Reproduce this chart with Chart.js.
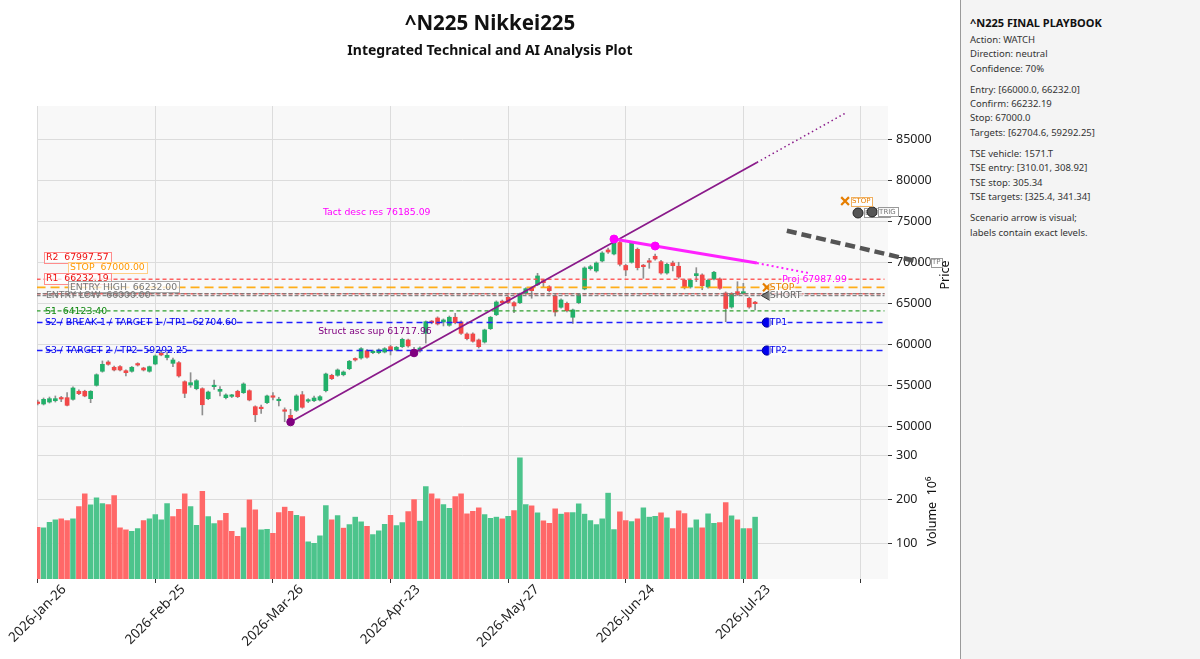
<!DOCTYPE html>
<html>
<head>
<meta charset="utf-8">
<script src="https://cdn.jsdelivr.net/npm/chart.js@4.4.1/dist/chart.umd.min.js"></script>
<style>
  html, body { margin: 0; padding: 0; background: #fff; }
  body { width: 1200px; height: 659px; position: relative; overflow: hidden; font-family: 'Noto Sans', sans-serif; color: #111; }
  #wrap { position: absolute; left: 0; top: 0; width: 960px; height: 659px; }
  #title { position: absolute; left: 0; width: 980px; top: 8px; line-height: 28px; text-align: center; font-weight: bold; font-size: 20.5px; }
  #subtitle { position: absolute; left: 0; width: 980px; top: 40px; line-height: 20px; text-align: center; font-weight: bold; font-size: 14px; }
  #panel { position: absolute; left: 960px; top: 0; width: 240px; height: 659px; background: #f4f4f4; border-left: 1px solid #9a9a9a; box-sizing: border-box; padding: 15px 0 0 9px; font-size: 9.5px; color: #333; }
  #panel .h { font-weight: bold; font-size: 11px; line-height: 16px; color: #111; margin-bottom: 2px; }
  #panel .l { line-height: 14.3px; }
  #panel .g { margin-top: 7px; }
</style>
</head>
<body>
<div id="wrap"><canvas id="chart" width="960" height="659"></canvas></div>
<div id="title">^N225 Nikkei225</div>
<div id="subtitle">Integrated Technical and AI Analysis Plot</div>
<div id="panel">
  <div class="h">^N225 FINAL PLAYBOOK</div>
  <div class="l">Action: WATCH</div>
  <div class="l">Direction: neutral</div>
  <div class="l">Confidence: 70%</div>
  <div class="l g">Entry: [66000.0, 66232.0]</div>
  <div class="l">Confirm: 66232.19</div>
  <div class="l">Stop: 67000.0</div>
  <div class="l">Targets: [62704.6, 59292.25]</div>
  <div class="l g">TSE vehicle: 1571.T</div>
  <div class="l">TSE entry: [310.01, 308.92]</div>
  <div class="l">TSE stop: 305.34</div>
  <div class="l">TSE targets: [325.4, 341.34]</div>
  <div class="l g">Scenario arrow is visual;</div>
  <div class="l">labels contain exact levels.</div>
</div>
<script>
// Daily candles, index 0 = 2026-Jan-26
const opens = [53010, 52770, 53010, 53170, 53450, 53540, 53340, 54320, 54320, 53420,
  55050, 56760, 57890, 57250, 57330, 56830, 56760, 57650, 57160, 56760,
  57650, 58950, 58440, 57730, 57810, 55490, 55090, 54640, 54640, 53420,
  54880, 54320, 53540, 53700, 54320, 54150, 54390, 52440, 52370, 52930,
  53750, 53170, 52040, 51390, 52000, 53900, 53110, 53170, 53260, 54390,
  56270, 56270, 56340, 57080, 58300, 58380, 59270, 59030, 59030, 59110,
  59760, 59360, 59760, 60580, 59440, 59270, 61390, 62810, 63260, 62770,
  62370, 63350, 62770, 61310, 61310, 60580, 60330, 61960, 63660, 65300,
  65790, 65130, 65130, 66270, 66920, 67320, 67810, 67080, 65950, 64570,
  65050, 63350, 65130, 66800, 69280, 69000, 70220, 71560, 71070, 72470,
  69670, 70060, 71640, 69640, 70220, 70790, 70130, 68750, 69970, 69570,
  67860, 67040, 68420, 68510, 67040, 68020, 68020, 66310, 64600, 66470,
  66230, 65660, 65180];
const highs = [53260, 53500, 53620, 53750, 53700, 54150, 54850, 54500, 54450, 54400,
  56450, 58020, 58050, 57400, 57450, 56950, 57350, 57800, 57250, 57400,
  58750, 59300, 59030, 58380, 57950, 55600, 56590, 55750, 54750, 54350,
  55700, 54880, 54000, 53950, 54450, 55350, 54500, 52550, 52650, 53850,
  54150, 53590, 52300, 52120, 53900, 54300, 53420, 53750, 53800, 56550,
  56400, 57050, 56800, 58100, 58400, 59650, 59400, 59350, 59500, 59650,
  59950, 59800, 60800, 60700, 59690, 59750, 62900, 62950, 63400, 63150,
  63500, 63830, 62900, 61450, 61450, 60700, 61900, 63450, 65350, 65450,
  65900, 65250, 66300, 66950, 67050, 68710, 67950, 67200, 66100, 65600,
  65200, 64350, 66250, 69500, 69700, 70100, 71350, 71800, 72890, 72600,
  69800, 72550, 71800, 69800, 70540, 71070, 70300, 69950, 70200, 70060,
  68000, 68000, 69400, 68650, 68000, 68950, 68150, 66450, 66350, 67690,
  67490, 65800, 65300];
const lows = [52650, 52650, 52890, 53010, 53050, 52550, 53250, 53900, 53650, 52930,
  54950, 56650, 57500, 56800, 56800, 56190, 56650, 57400, 56800, 56650,
  57550, 58650, 58140, 57320, 56050, 53540, 54810, 54500, 51430, 53300,
  54560, 53750, 53400, 53550, 53550, 54050, 53150, 50610, 51630, 52800,
  53260, 52530, 50610, 50570, 51850, 52250, 52930, 53050, 53150, 54250,
  55750, 56150, 56200, 56950, 58000, 58250, 58350, 58900, 58900, 59000,
  58750, 59250, 59650, 59700, 58870, 59100, 60200, 62550, 62400, 62290,
  62250, 62550, 61250, 60600, 60300, 59600, 60200, 61850, 63550, 65000,
  65000, 63910, 65000, 66150, 65670, 67200, 67080, 66450, 63500, 64450,
  64000, 62600, 65000, 66700, 69100, 68850, 70100, 71150, 70950, 69600,
  68420, 69950, 69120, 68100, 69320, 70300, 68600, 68600, 69000, 68100,
  66800, 66900, 67690, 66710, 66900, 67900, 66750, 62810, 64450, 66000,
  66150, 64450, 64240];
const closes = [52830, 53340, 53420, 53420, 53380, 52610, 54720, 54030, 53750, 54320,
  56340, 57610, 57610, 56920, 56920, 56590, 57250, 57520, 56920, 57320,
  58630, 58750, 58710, 58140, 56190, 54070, 55370, 55610, 52680, 54230,
  55050, 54560, 53870, 53800, 53660, 55210, 53260, 51460, 52200, 53750,
  53590, 53340, 51880, 50980, 53750, 52370, 53260, 53500, 53660, 56430,
  55860, 56920, 56670, 57980, 58140, 59520, 58470, 59200, 59360, 59520,
  59270, 59690, 60660, 59850, 59150, 59600, 62810, 62700, 62530, 63020,
  63350, 62690, 61390, 60740, 60420, 59760, 61800, 63350, 65210, 65130,
  65150, 64730, 66190, 66840, 66590, 68390, 67570, 66590, 63990, 65460,
  64150, 64240, 66100, 69360, 69520, 69970, 71190, 71310, 72840, 69810,
  69120, 72410, 69400, 69520, 70060, 70460, 68750, 69810, 69640, 68260,
  66960, 67860, 68670, 67200, 67860, 68840, 66880, 64420, 66230, 66150,
  66470, 64600, 65010];
// volume in millions, and whether its bar is drawn green
const volumes = [138.7, 137.2, 150.1, 155.4, 157.7, 153.9, 157.7, 185.7, 214.5, 189.5,
  205.4, 192.5, 190.2, 210.7, 137.2, 132.7, 129.6, 135.7, 153.9, 157.7,
  167.5, 155.4, 192.5, 163.0, 179.6, 214.5, 185.7, 143.3, 220.5, 163.0,
  147.1, 153.9, 170.5, 129.6, 118.3, 137.2, 200.8, 178.1, 132.7, 134.2,
  125.1, 172.1, 184.2, 175.1, 166.0, 163.0, 105.4, 102.4, 119.0, 188.0,
  155.4, 165.2, 136.5, 144.8, 161.5, 150.8, 141.0, 122.1, 130.4, 145.5,
  166.0, 142.5, 149.3, 174.3, 201.6, 152.4, 231.2, 214.5, 203.1, 190.2,
  181.9, 208.4, 214.5, 169.0, 175.1, 182.7, 167.5, 159.2, 161.5, 157.7,
  163.7, 176.6, 296.3, 190.2, 187.2, 171.3, 153.1, 147.8, 180.4, 168.3,
  172.1, 172.1, 191.8, 168.3, 153.9, 144.8, 157.7, 216.0, 133.4, 173.6,
  153.9, 151.6, 157.7, 182.7, 161.5, 163.7, 171.3, 160.0, 135.7, 175.8,
  169.8, 137.2, 155.4, 137.2, 169.0, 147.8, 149.3, 194.8, 164.5, 155.4,
  135.7, 135.7, 161.5];
const volUp = [0, 1, 1, 1, 0, 0, 1, 0, 0, 1, 1, 1, 0, 0, 0, 0, 1, 1, 0, 1,
  1, 1, 1, 0, 0, 0, 1, 1, 0, 1, 1, 0, 0, 0, 0, 1, 0, 0, 1, 1,
  0, 0, 0, 0, 1, 0, 1, 1, 1, 1, 0, 1, 0, 1, 1, 1, 0, 1, 1, 1,
  0, 1, 1, 0, 0, 1, 1, 0, 0, 1, 1, 0, 0, 0, 0, 0, 1, 1, 1, 0,
  1, 0, 1, 1, 0, 1, 0, 0, 0, 1, 0, 1, 1, 1, 1, 1, 1, 1, 1, 0,
  0, 1, 0, 1, 1, 1, 0, 1, 0, 0, 0, 1, 1, 0, 1, 1, 0, 0, 1, 0,
  1, 0, 1];

// axis ticks: one date label every 20 sessions
const xTicks = [0, 20, 40, 60, 80, 100, 120, 140];
const tickLabels = ['2026-Jan-26', '2026-Feb-25', '2026-Mar-26', '2026-Apr-23', '2026-May-27', '2026-Jun-24', '2026-Jul-23', ''];
const priceTicks = [50000, 55000, 60000, 65000, 70000, 75000, 80000, 85000];
const volTicks = [100, 200, 300];

// horizontal levels
const levelNames = ['R2', 'STOP', 'R1', 'ENTRY HIGH', 'ENTRY LOW', 'S1', 'S2 / BREAK 1 / TARGET 1 / TP1', 'S3 / TARGET 2 / TP2'];
const levelValues = [67997.57, 67000.00, 66232.19, 66232.00, 66000.00, 64123.40, 62704.60, 59292.25];

// trend lines [session index, price]
const ascSolid = [[43, 50570], [64, 58990], [122.3, 82230]];
const ascDotted = [[122.3, 82230], [137.3, 88230]];
const ascPivots = [[43, 50570], [64, 58990]];
const descSolid = [[98, 72890], [105, 72040], [122.3, 69960]];
const descDotted = [[122.3, 69960], [131.3, 68710]];
const descPivots = [[98, 72890], [105, 72040]];

// scenario arrow and markers
const scenarioArrow = [[127.4, 73900], [150.0, 70090]];
const planMarkers = [
  {name: 'STOP', x: 124, y: 67000.00},
  {name: 'SHORT', x: 124, y: 66000.00},
  {name: 'TP1', x: 124, y: 62704.60},
  {name: 'TP2', x: 124, y: 59292.25}
];
const scenarioMarkers = [
  {name: 'STOP', x: 137.3, y: 77530},
  {name: 'ENTRY', x: 139.5, y: 76070},
  {name: 'TRIG', x: 141.9, y: 76200},
  {name: 'TP', x: 150.9, y: 70090}
];
const notes = [
  {text: 'Tact desc res 76185.09', x: 48.5, y: 76185.09, color: '#ff00ff'},
  {text: 'Struct asc sup 61717.96', x: 47.7, y: 61717.96, color: '#800080'},
  {text: 'Proj 67987.99', x: 126.6, y: 67987.99, color: '#ff00ff', bg: true}
];

// styles for each level line and its label
const levelStyles = [
  {color: '#ee1111', line: 'rgba(255,70,70,0.85)', dash: [4, 3], width: 1.5, dx: 9, dy: -22, box: '#ff8c8c'},
  {color: '#ff9900', line: 'rgba(255,165,0,0.9)', dash: [9, 5], width: 1.6, dx: 33, dy: -20, box: '#ffcf85'},
  {color: '#ee1111', line: 'rgba(255,70,70,0.85)', dash: [4, 3], width: 1.5, dx: 9, dy: -15.5, box: '#ff8c8c'},
  {color: '#777777', line: 'rgba(120,120,120,0.9)', dash: [4, 2], width: 1.3, dx: 33, dy: -7, box: '#aaaaaa'},
  {color: '#777777', line: 'rgba(120,120,120,0.9)', dash: [4, 2], width: 1.3, dx: 9, dy: 0, box: null},
  {color: '#118811', line: '#2ea02e', dash: [4, 3], width: 1.2, dx: 8, dy: 0, box: null},
  {color: '#0000ee', line: '#1f1fff', dash: [6, 4], width: 1.5, dx: 8, dy: 0, box: null},
  {color: '#0000ee', line: '#1f1fff', dash: [6, 4], width: 1.5, dx: 8, dy: 0, box: null}
];

const UP = '#22b06a', DOWN = '#f24848';
const VOL_UP = '#4cc48c', VOL_DOWN = '#ff6868';
const pts = arr => arr.map(p => ({x: p[0], y: p[1]}));

const datasets = [];

// volume
datasets.push({
  type: 'bar', yAxisID: 'yVol', grouped: false, order: 20, barThickness: 5.9,
  data: volumes.map((v, i) => ({x: i, y: v})),
  backgroundColor: volUp.map(u => u ? VOL_UP : VOL_DOWN),
  borderColor: 'rgba(255,255,255,0.35)', borderWidth: 0.5
});
// wicks and bodies
datasets.push({
  type: 'bar', yAxisID: 'y', grouped: false, order: 19, barThickness: 1,
  data: lows.map((l, i) => ({x: i, y: [l, highs[i]]})),
  backgroundColor: '#8f8f8f'
});
datasets.push({
  type: 'bar', yAxisID: 'y', grouped: false, order: 18, barThickness: 4, minBarLength: 1.5,
  data: opens.map((o, i) => ({x: i, y: [o, closes[i]]})),
  backgroundColor: opens.map((o, i) => closes[i] >= o ? UP : DOWN)
});
// level lines
levelValues.forEach((v, i) => {
  const st = levelStyles[i];
  datasets.push({
    type: 'line', yAxisID: 'y', order: 17 - i * 0.1,
    data: [{x: -0.2, y: v}, {x: 144, y: v}],
    borderColor: st.line, borderWidth: st.width, borderDash: st.dash, pointRadius: 0
  });
});
// trend lines
datasets.push({type: 'line', yAxisID: 'y', order: 10, data: pts(ascSolid), borderColor: '#8a1a8a', borderWidth: 1.8, pointRadius: 0});
datasets.push({type: 'line', yAxisID: 'y', order: 10, data: pts(ascDotted), borderColor: '#8a1a8a', borderWidth: 1.5, borderDash: [1.5, 3], pointRadius: 0});
datasets.push({type: 'line', yAxisID: 'y', order: 9, data: pts(ascPivots), showLine: false, pointRadius: 3.8, pointBackgroundColor: '#800080', pointBorderColor: '#800080'});
datasets.push({type: 'line', yAxisID: 'y', order: 8, data: pts(descSolid), borderColor: '#ff22ff', borderWidth: 3, pointRadius: 0});
datasets.push({type: 'line', yAxisID: 'y', order: 8, data: pts(descDotted), borderColor: '#ff22ff', borderWidth: 2, borderDash: [2, 3], pointRadius: 0});
datasets.push({type: 'line', yAxisID: 'y', order: 7, data: pts(descPivots), showLine: false, pointRadius: 4, pointBackgroundColor: '#ff00ff', pointBorderColor: '#ff00ff'});
// scenario arrow
datasets.push({type: 'line', yAxisID: 'y', order: 6, clip: false, data: pts(scenarioArrow), borderColor: '#555555', borderWidth: 4.5, borderDash: [10, 5], pointRadius: 0});

// markers
const markerStyle = {
  STOP: {pointStyle: 'crossRot', radius: 5.5, bg: '#e67e00', border: '#e67e00', bw: 2.2, rot: 0},
  SHORT: {pointStyle: 'triangle', radius: 5.5, bg: '#777777', border: '#333333', bw: 1, rot: -90},
  TP1: {pointStyle: 'circle', radius: 4.6, bg: '#0000ee', border: '#00009a', bw: 1, rot: 0},
  TP2: {pointStyle: 'circle', radius: 4.6, bg: '#0000ee', border: '#00009a', bw: 1, rot: 0},
  ENTRY: {pointStyle: 'circle', radius: 5, bg: '#555555', border: '#222222', bw: 1, rot: 0},
  TRIG: {pointStyle: 'circle', radius: 5, bg: '#555555', border: '#222222', bw: 1, rot: 0},
  TP: {pointStyle: 'circle', radius: 5, bg: '#555555', border: '#222222', bw: 1, rot: 0}
};
function markerSet(m, order) {
  const s = markerStyle[m.name];
  return {
    type: 'line', yAxisID: 'y', order: order, clip: false, showLine: false,
    data: [{x: m.x, y: m.y}],
    pointStyle: s.pointStyle, pointRadius: s.radius, pointRotation: s.rot,
    pointBackgroundColor: s.bg, pointBorderColor: s.border, pointBorderWidth: s.bw
  };
}
planMarkers.forEach((m, i) => datasets.push(markerSet(m, 5 - i * 0.1)));
scenarioMarkers.forEach((m, i) => datasets.push(markerSet(m, 4 - i * 0.1)));

// text helpers
function tag(ctx, text, x, y, o) {
  ctx.font = o.font;
  const w = ctx.measureText(text).width;
  const h = o.h;
  if (o.fill) {
    ctx.fillStyle = o.fill;
    ctx.fillRect(x - o.pad, y - h / 2, w + o.pad * 2, h);
  }
  if (o.border) {
    ctx.strokeStyle = o.border;
    ctx.lineWidth = 1;
    ctx.strokeRect(Math.round(x - o.pad) + 0.5, Math.round(y - h / 2) + 0.5, Math.round(w + o.pad * 2), Math.round(h));
  }
  ctx.fillStyle = o.color;
  ctx.textAlign = 'left';
  ctx.textBaseline = 'middle';
  ctx.fillText(text, x, y + 0.5);
}

const markerLabelColor = {STOP: '#e67e00', SHORT: '#666666', TP1: '#0000ee', TP2: '#0000ee'};
const X_ROT = 45 * Math.PI / 180;

function scenarioTag(chart, m) {
  const isStop = m.name === 'STOP';
  tag(chart.ctx, m.name, chart.scales.x.getPixelForValue(m.x) + 7, chart.scales.y.getPixelForValue(m.y), {
    font: '7px "DejaVu Sans"', h: 9, pad: 1.5,
    color: isStop ? '#e67e00' : '#777777',
    fill: 'rgba(255,255,255,0.9)', border: isStop ? '#f0b060' : '#999999'
  });
}

const overlay = {
  id: 'overlay',
  beforeDraw(chart) {
    const {ctx, chartArea: a} = chart;
    ctx.save();
    ctx.fillStyle = '#f8f8f8';
    ctx.fillRect(a.left, a.top, a.right - a.left, a.bottom - a.top);
    ctx.restore();
  },
  beforeDatasetsDraw(chart) {
    // the ENTRY tag sits under the TRIG marker
    chart.ctx.save();
    scenarioMarkers.filter(m => m.name === 'ENTRY').forEach(m => scenarioTag(chart, m));
    chart.ctx.restore();
  },
  afterDatasetsDraw(chart) {
    const {ctx, chartArea: a} = chart;
    const xs = chart.scales.x, ys = chart.scales.y;
    ctx.save();
    const LF = '9.3px "DejaVu Sans"';
    levelNames.forEach((name, i) => {
      const st = levelStyles[i];
      const py = ys.getPixelForValue(levelValues[i]) + st.dy;
      tag(ctx, name + '  ' + levelValues[i].toFixed(2), a.left + st.dx, py, {
        font: LF, h: 11, pad: 2, color: st.color,
        fill: st.box ? 'rgba(255,255,255,0.75)' : null, border: st.box
      });
    });
    notes.forEach(n => {
      tag(ctx, n.text, xs.getPixelForValue(n.x), ys.getPixelForValue(n.y), {
        font: LF, h: 11, pad: 1, color: n.color, fill: n.bg ? 'rgba(255,255,255,0.6)' : null
      });
    });
    planMarkers.forEach(m => {
      tag(ctx, m.name, xs.getPixelForValue(m.x) + 3, ys.getPixelForValue(m.y), {
        font: LF, h: 10, pad: 1, color: markerLabelColor[m.name], fill: 'rgba(255,255,255,0.55)'
      });
    });
    scenarioMarkers.filter(m => m.name !== 'ENTRY').forEach(m => scenarioTag(chart, m));
    ctx.restore();
  },
  afterDraw(chart) {
    const ctx = chart.ctx;
    const xs = chart.scales.x, ys = chart.scales.y, yv = chart.scales.yVol;
    // rotated date labels, centred under their ticks
    ctx.save();
    ctx.fillStyle = '#222';
    ctx.font = '13.5px "Noto Sans"';
    ctx.textAlign = 'center';
    ctx.textBaseline = 'middle';
    const top = chart.chartArea.bottom + 4;
    xTicks.forEach((t, i) => {
      const text = tickLabels[i];
      if (!text) return;
      const w = ctx.measureText(text).width, h = 12;
      const boxH = w * Math.sin(X_ROT) + h * Math.cos(X_ROT);
      ctx.save();
      ctx.translate(xs.getPixelForValue(t), top + boxH / 2);
      ctx.rotate(-X_ROT);
      ctx.fillText(text, 0, 0);
      ctx.restore();
    });
    ctx.restore();
    // axis titles
    [['Price', 945, (ys.top + ys.bottom) / 2], ['Volume  10\u2076', 932, (yv.top + yv.bottom) / 2]].forEach(t => {
      ctx.save();
      ctx.fillStyle = '#111';
      ctx.font = '12.5px "Noto Sans"';
      ctx.textAlign = 'center';
      ctx.textBaseline = 'middle';
      ctx.translate(t[1], t[2]);
      ctx.rotate(-Math.PI / 2);
      ctx.fillText(t[0], 0, 0);
      ctx.restore();
    });
  }
};

const tickFont = {family: 'Noto Sans', size: 12.5};
const setTicks = list => s => { s.ticks = list.map(v => ({value: v})); };

new Chart(document.getElementById('chart'), {
  type: 'bar',
  data: {datasets: datasets},
  plugins: [overlay],
  options: {
    responsive: false,
    animation: false,
    events: [],
    layout: {padding: {left: 37, top: 106, right: 10, bottom: 0}},
    plugins: {legend: {display: false}, tooltip: {enabled: false}},
    scales: {
      x: {
        type: 'linear', min: -0.12, max: 144.6, offset: false,
        border: {display: false},
        grid: {color: '#dcdcdc', tickColor: '#333', tickLength: 4, offset: false},
        ticks: {display: false},
        afterBuildTicks: setTicks(xTicks),
        afterFit: s => { s.height = 80; s.paddingLeft = 0; s.paddingRight = 0; }
      },
      y: {
        type: 'linear', position: 'right', stack: 'panes', stackWeight: 338,
        min: 47890, max: 89120,
        border: {display: false},
        grid: {color: '#dcdcdc', tickColor: '#333', tickLength: 4},
        ticks: {color: '#222', font: tickFont, padding: 4, callback: v => String(v)},
        afterBuildTicks: setTicks(priceTicks),
        afterFit: s => { s.width = 62; }
      },
      yVol: {
        type: 'linear', position: 'right', stack: 'panes', stackWeight: 135,
        min: 20, max: 326.6,
        border: {display: false},
        grid: {color: '#dcdcdc', tickColor: '#333', tickLength: 4},
        ticks: {color: '#222', font: tickFont, padding: 4, callback: v => String(v)},
        afterBuildTicks: setTicks(volTicks),
        afterFit: s => { s.width = 62; }
      }
    }
  }
});
</script>
</body>
</html>
